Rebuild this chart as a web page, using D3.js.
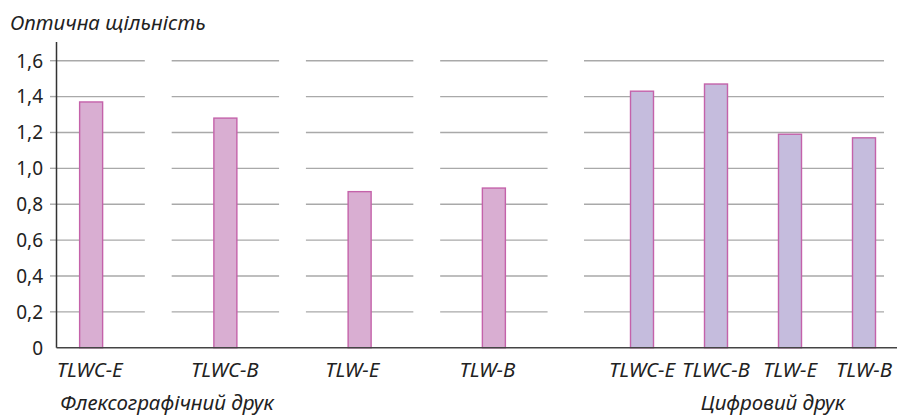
<!DOCTYPE html>
<html>
<head>
<meta charset="utf-8">
<script src="https://cdn.jsdelivr.net/npm/d3@7"></script>
<style>
  html, body { margin: 0; padding: 0; background: #fff; }
  svg { display: block; }
  text { font-family: "Noto Sans", sans-serif; fill: #222; }
</style>
</head>
<body>
<script>
// Optical density of inks, flexographic vs digital printing
const flexoCategories = ["TLWC-E", "TLWC-B", "TLW-E", "TLW-B"];
const flexoValues = [1.37, 1.28, 0.87, 0.89];
const digitalCategories = ["TLWC-E", "TLWC-B", "TLW-E", "TLW-B"];
const digitalValues = [1.43, 1.47, 1.19, 1.17];
const yTicks = [0, 0.2, 0.4, 0.6, 0.8, 1.0, 1.2, 1.4, 1.6];
const yTitle = "Оптична щільність";
const groupTitles = ["Флексографічний друк", "Цифровий друк"];

const W = 897, H = 418;
const axisX = 56.5;
const barW = 23;
const labelSize = "20.5px";

const svg = d3.select("body").append("svg")
  .attr("width", W).attr("height", H);

const y = d3.scaleLinear().domain([0, 1.6]).range([347.7, 60.7]);

const xFlexo = d3.scaleBand().domain(flexoCategories).range([24, 561]).padding(0);
const xDigital = d3.scaleBand().domain(digitalCategories).range([605, 901]).padding(0);

const fmt = v => v === 0 ? "0" : d3.format(".1f")(v).replace(".", ",");

// Horizontal gridlines: one short segment per flexo bar, one continuous run for digital
const gridTicks = yTicks.filter(t => t > 0);
const grid = svg.append("g").attr("stroke", "#a9a9a9").attr("stroke-width", 1.4);
gridTicks.forEach(t => {
  flexoCategories.forEach(c => {
    const cx = xFlexo(c) + xFlexo.bandwidth() / 2;
    const half = xFlexo.bandwidth() * 0.4;
    grid.append("line")
      .attr("x1", Math.max(axisX, cx - half)).attr("x2", cx + half)
      .attr("y1", y(t)).attr("y2", y(t));
  });
  grid.append("line")
    .attr("x1", xDigital.range()[0] - 21).attr("x2", xDigital.range()[1] - 17)
    .attr("y1", y(t)).attr("y2", y(t));
  // tick mark left of axis
  grid.append("line")
    .attr("x1", axisX - 6.5).attr("x2", axisX)
    .attr("y1", y(t)).attr("y2", y(t));
});

// Y axis labels
svg.append("g").selectAll("text").data(yTicks).join("text")
  .attr("x", 43).attr("y", d => y(d))
  .attr("dy", "0.36em")
  .attr("text-anchor", "end")
  .style("font-size", "19px")
  .text(fmt);

// Bars
function drawBars(scale, cats, vals, fill) {
  svg.append("g").selectAll("rect").data(cats.map((c, i) => ({ c, v: vals[i] }))).join("rect")
    .attr("x", d => scale(d.c) + scale.bandwidth() / 2 - barW / 2)
    .attr("y", d => y(d.v))
    .attr("width", barW)
    .attr("height", d => y(0) - y(d.v))
    .attr("fill", fill)
    .attr("stroke", "#c462aa")
    .attr("stroke-width", 1.4);
}
drawBars(xFlexo, flexoCategories, flexoValues, "#d9aed2");
drawBars(xDigital, digitalCategories, digitalValues, "#c5bcdd");

// Axes lines
svg.append("line")
  .attr("x1", axisX).attr("x2", axisX)
  .attr("y1", 42).attr("y2", y(0))
  .attr("stroke", "#333").attr("stroke-width", 1.5);
svg.append("line")
  .attr("x1", axisX).attr("x2", W)
  .attr("y1", y(0)).attr("y2", y(0))
  .attr("stroke", "#444").attr("stroke-width", 1.5);

// Category labels
svg.append("g").selectAll("text").data(flexoCategories).join("text")
  .attr("x", d => xFlexo(d) + xFlexo.bandwidth() / 2 - barW / 2 - 23)
  .attr("y", 377)
  .attr("text-anchor", "start")
  .style("font-size", labelSize).style("font-style", "italic")
  .text(d => d);
svg.append("g").selectAll("text").data(digitalCategories).join("text")
  .attr("x", d => xDigital(d) + xDigital.bandwidth() / 2)
  .attr("y", 377)
  .attr("text-anchor", "middle")
  .style("font-size", labelSize).style("font-style", "italic")
  .text(d => d);

// Group titles
svg.append("text")
  .attr("x", 167).attr("y", 410)
  .attr("text-anchor", "middle")
  .style("font-size", labelSize).style("font-style", "italic")
  .text(groupTitles[0]);
svg.append("text")
  .attr("x", 773).attr("y", 410)
  .attr("text-anchor", "middle")
  .style("font-size", labelSize).style("font-style", "italic")
  .text(groupTitles[1]);

// Y title
svg.append("text")
  .attr("x", 10).attr("y", 30)
  .style("font-size", labelSize).style("font-style", "italic")
  .text(yTitle);
</script>
</body>
</html>
